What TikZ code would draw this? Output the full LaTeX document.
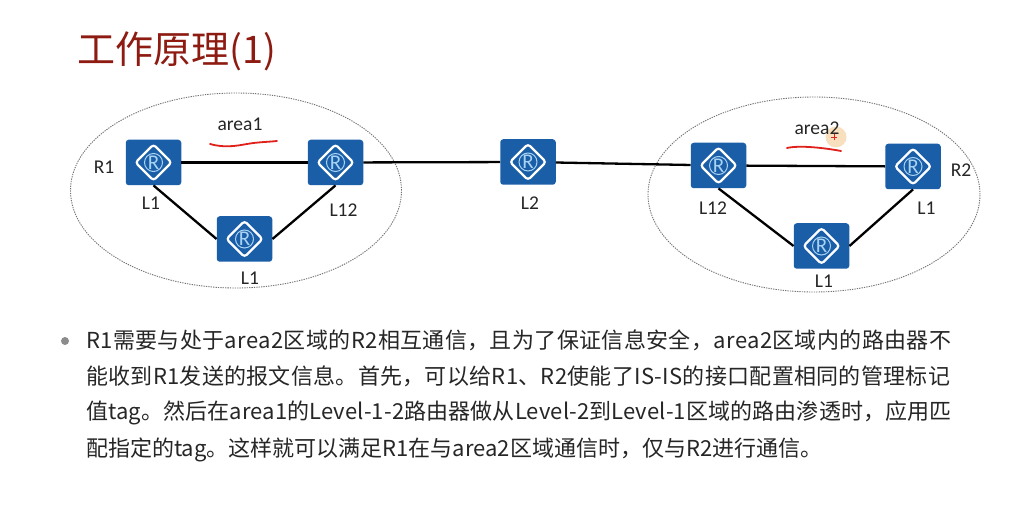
\documentclass[tikz,border=0pt]{standalone}
\usepackage{fontspec}
\setmainfont{Carlito}
\newfontfamily\cjk{Noto Sans CJK SC}
\newcommand{\spaced}[1]{\addfontfeature{LetterSpace=#1}}
\usetikzlibrary{shapes.geometric}
\definecolor{routerblue}{HTML}{1A5EA8}
\definecolor{routerlight}{HTML}{A9D3F2}
\definecolor{titlered}{HTML}{8E1B12}
\definecolor{bodyink}{HTML}{262626}
\definecolor{markred}{HTML}{E0201A}
\definecolor{cursorglow}{HTML}{F7D9AE}
\tikzset{
  x=1pt,y=-1pt,
  routerbox/.style={rectangle,rounded corners=3pt,fill=routerblue,minimum width=55.5pt,minimum height=45.5pt,inner sep=0pt,
    text=routerlight,font=\fontsize{21}{21}\selectfont,
    path picture={
      \draw[white,line width=2.2pt,line join=miter] (path picture bounding box.center) +(-18pt,0pt) -- +(0pt,18pt) -- +(18pt,0pt) -- +(0pt,-18pt) -- cycle;
      \draw[routerlight,line width=1pt] (path picture bounding box.center) circle (9pt);
    }},
  zone/.style={ellipse,draw=black!55,line width=0.9pt,dash pattern=on 1.3pt off 1.1pt,inner sep=0pt},
  link/.style={draw=black,line width=2.3pt},
  tag/.style={inner sep=0pt,text=black!85,font=\fontsize{19.5}{20}\selectfont},
  bodyline/.style={anchor=west,inner sep=0pt,text=bodyink,font=\cjk\fontsize{22}{24}\selectfont},
  stroke/.style={draw=markred,line width=1.8pt,line cap=round}
}
\begin{document}
\begin{tikzpicture}
\useasboundingbox[fill=white] (0,0) rectangle (1033,510);
\node[anchor=west,inner sep=0pt,text=titlered,font=\cjk\fontsize{38}{40}\selectfont] (title) at (77,51) {工作原理(1)};
\node[zone,minimum width=331pt,minimum height=195pt] (area-a) at (236,190.5) {};
\node[zone,minimum width=332pt,minimum height=195pt] (area-b) at (814,194.5) {};
\node[routerbox] (r1) at (153.5,162.5) {R};
\node[routerbox] (r2) at (335.5,162.5) {R};
\node[routerbox] (r3) at (244.5,239) {R};
\node[routerbox] (r4) at (528,162) {R};
\node[routerbox] (r5) at (718.5,165.5) {R};
\node[routerbox] (r6) at (913,166.5) {R};
\node[routerbox] (r7) at (821.5,246) {R};
\draw[link] (r1) -- (r2);
\draw[link] (r1.south) -- (r3.west);
\draw[link] (r2.south) -- (r3.east);
\draw[link] (r2) -- (r4);
\draw[link] (r4) -- (r5);
\draw[link] (r5) -- (r6);
\draw[link] (r5.south) -- (r7.west);
\draw[link] (r6.south) -- (r7.east);
\node[tag] (t1) at (104,167) {R1};
\node[tag] (t2) at (151,203) {L1};
\node[tag] (t3) at (343.5,210) {L12};
\node[tag] (t4) at (250,278) {L1};
\node[tag] (t5) at (240,124) {area1};
\node[tag] (t6) at (530,203) {L2};
\node[tag] (t7) at (713,208) {L12};
\node[tag] (t8) at (961,170) {R2};
\node[tag] (t9) at (926.5,208) {L1};
\node[tag] (t10) at (824,281) {L1};
\fill[cursorglow,opacity=.8] (836,137) circle (10.5pt);
\node[tag] (t11) at (817,128) {area2};
\draw[markred,line width=.9pt] (831,137) -- (837,137) (834,134) -- (834,140);
\draw[stroke] (210,144) .. controls (224,148) and (236,146) .. (247,144) .. controls (258,142) and (268,142) .. (277,141);
\draw[stroke] (787,148) .. controls (800,145) and (825,148) .. (841,151);
\fill[black!45] (65,341) circle (4pt);
\node[bodyline] (b1) at (86,340) {\spaced{1.7}R1需要与处于area2区域的R2相互通信，且为了保证信息安全，area2区域内的路由器不};
\node[bodyline] (b2) at (86,376.5) {\spaced{1.3}能收到R1发送的报文信息。首先，可以给R1、R2使能了IS-IS的接口配置相同的管理标记};
\node[bodyline] (b3) at (86,413) {\spaced{0.6}值tag。然后在area1的Level-1-2路由器做从Level-2到Level-1区域的路由渗透时，应用匹};
\node[bodyline] (b4) at (86,450) {配指定的tag。这样就可以满足R1在与area2区域通信时，仅与R2进行通信。};
\end{tikzpicture}
\end{document}
